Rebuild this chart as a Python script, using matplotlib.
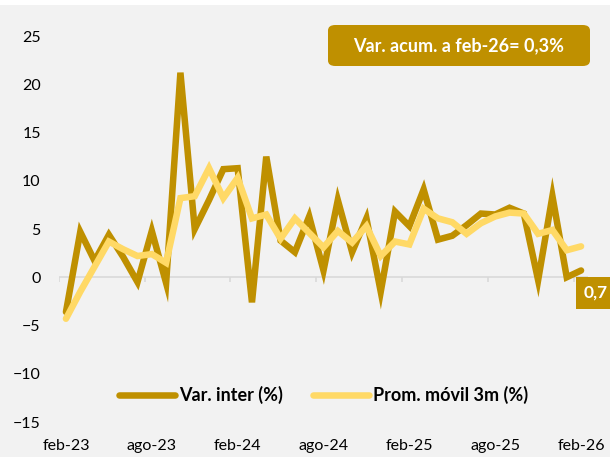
import matplotlib
matplotlib.use('Agg')
import matplotlib.pyplot as plt
import numpy as np
from matplotlib.patches import FancyBboxPatch

# datos mensuales feb-23 .. feb-26
meses = ['feb-23', 'mar-23', 'abr-23', 'may-23', 'jun-23', 'jul-23', 'ago-23', 'sep-23', 'oct-23',
         'nov-23', 'dic-23', 'ene-24', 'feb-24', 'mar-24', 'abr-24', 'may-24', 'jun-24', 'jul-24',
         'ago-24', 'sep-24', 'oct-24', 'nov-24', 'dic-24', 'ene-25', 'feb-25', 'mar-25', 'abr-25',
         'may-25', 'jun-25', 'jul-25', 'ago-25', 'sep-25', 'oct-25', 'nov-25', 'dic-25', 'ene-26',
         'feb-26']
var_inter = [-3.6, 4.7, 1.7, 4.4, 2.1, -0.5, 4.8, -0.6, 21.2, 5.0, 8.0, 11.2, 11.3, -2.6, 12.5,
             3.8, 2.6, 6.3, 0.7, 8.0, 2.6, 6.1, -1.5, 6.8, 5.3, 9.1, 3.9, 4.3, 5.4, 6.6, 6.5,
             7.2, 6.6, -0.3, 8.4, 0.0, 0.7]
prom_movil = [-4.3, -1.5, 1.1, 3.7, 2.9, 2.2, 2.4, 1.5, 8.2, 8.4, 11.3, 8.2, 10.3, 6.1, 6.5,
              4.0, 6.1, 4.6, 3.1, 4.8, 3.6, 5.3, 2.2, 3.7, 3.4, 7.1, 6.1, 5.7, 4.5, 5.6, 6.3,
              6.7, 6.6, 4.5, 4.9, 2.8, 3.2]
ultimo_label = '0,7'
acum_label = 'Var. acum. a feb-26= 0,3%'

c_var = '#BF9000'
c_prom = '#FFD966'
bg = '#F2F2F2'

plt.rcParams['font.family'] = ['Lato', 'DejaVu Sans']

W, H = 610, 457
fig = plt.figure(figsize=(W / 100, H / 100), dpi=100, facecolor='white')
fig.patches.append(plt.Rectangle((0, 0), 1, 1 - 5 / H, transform=fig.transFigure,
                                 facecolor=bg, edgecolor='none', zorder=-10))
ax = fig.add_axes([58.8 / W, 1 - 422 / H, (588.2 - 58.8) / W, (422 - 36) / H])
ax.set_facecolor(bg)
ax.patch.set_alpha(0)

x = np.arange(len(meses))
ax.axhline(0, color='#D9D9D9', lw=1.2, zorder=1)
ax.vlines(np.arange(-0.5, len(meses) - 1, 6), -0.45, 0, color='#D9D9D9', lw=1.2, zorder=1)

ax.plot(x, var_inter, color=c_var, lw=4.7, solid_capstyle='round', solid_joinstyle='miter',
        label='Var. inter (%)', zorder=3)
ax.plot(x, prom_movil, color=c_prom, lw=4.7, solid_capstyle='round', solid_joinstyle='miter',
        label='Prom. móvil 3m (%)', zorder=4)

ax.set_xlim(-0.5, len(meses) - 0.5)
ax.set_ylim(-15, 25)
ax.set_yticks(np.arange(-15, 26, 5))
ax.set_xticks(x[::6])
ax.set_xticklabels(meses[::6])
ax.tick_params(axis='both', length=0, labelsize=11.5, colors='black')
ax.tick_params(axis='y', pad=13)
ax.tick_params(axis='x', pad=12)
for s in ax.spines.values():
    s.set_visible(False)

leg = ax.legend(loc='center', bbox_to_anchor=(0.5, 0.07), ncol=2, frameon=False,
                handlelength=3.1, handletextpad=0.2, columnspacing=1.7,
                prop={'weight': 'bold', 'size': 13})

# etiqueta del ultimo dato
ax.annotate(ultimo_label, xy=(x[-1], var_inter[-1]), xytext=(2, -16),
            textcoords='offset points', ha='left', va='center', color='white',
            fontsize=12.5, fontweight='bold', annotation_clip=False, zorder=6,
            bbox=dict(boxstyle='square,pad=0.45', facecolor=c_var, edgecolor='none'))

# caja con variacion acumulada
bx0, bx1, by0, by1 = 328, 590, 25, 66
fig.patches.append(FancyBboxPatch((bx0 / W, 1 - by1 / H), (bx1 - bx0) / W, (by1 - by0) / H,
                                  boxstyle='round,pad=0,rounding_size=0.012',
                                  transform=fig.transFigure, facecolor=c_var,
                                  edgecolor='none', zorder=5))
fig.text((bx0 + bx1) / 2 / W, 1 - (by0 + by1) / 2 / H, acum_label, ha='center', va='center',
         color='white', fontsize=13, fontweight='bold', zorder=6)

fig.savefig('out.png', dpi=100, facecolor='white')
